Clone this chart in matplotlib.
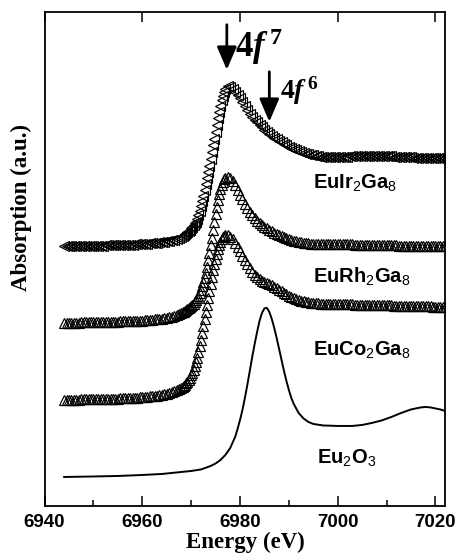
import matplotlib
matplotlib.use("Agg")
import matplotlib.pyplot as plt

plt.rcParams['mathtext.fontset'] = 'custom'
plt.rcParams['mathtext.rm'] = 'Liberation Sans'
plt.rcParams['mathtext.bf'] = 'Liberation Serif:bold'
plt.rcParams['mathtext.it'] = 'Liberation Serif:italic:bold'

# shared energy grid (eV) for the three intermetallic spectra
energy = [6944, 6944.5, 6945, 6945.5, 6946, 6946.5, 6947, 6947.5, 6948, 6948.5,
          6949, 6949.5, 6950, 6950.5, 6951, 6951.5, 6952, 6952.5, 6953, 6953.5,
          6954, 6954.5, 6955, 6955.5, 6956, 6956.5, 6957, 6957.5, 6958, 6958.5,
          6959, 6959.5, 6960, 6960.5, 6961, 6961.5, 6962, 6962.5, 6963, 6963.5,
          6964, 6964.5, 6965, 6965.5, 6966,
          6966.5, 6967, 6967.5, 6968,
          6968.25, 6968.5, 6968.75, 6969, 6969.25, 6969.5, 6969.75, 6970, 6970.25,
          6970.5, 6970.75, 6971, 6971.25, 6971.5, 6971.75, 6972, 6972.25, 6972.5,
          6972.75, 6973, 6973.25, 6973.5, 6973.75, 6974, 6974.25, 6974.5, 6974.75,
          6975, 6975.25, 6975.5, 6975.75, 6976, 6976.25, 6976.5, 6976.75, 6977,
          6977.5, 6978, 6978.5, 6979, 6979.5, 6980, 6980.5, 6981, 6981.5, 6982,
          6982.5, 6983, 6983.5, 6984, 6984.5, 6985, 6985.5, 6986, 6986.5, 6987,
          6987.5, 6988, 6988.5, 6989, 6989.5, 6990,
          6990.5, 6991, 6991.5, 6992, 6992.5, 6993, 6993.5, 6994, 6994.5, 6995,
          6995.5, 6996, 6996.5, 6997, 6997.5, 6998, 6998.5, 6999, 6999.5, 7000,
          7000.5, 7001, 7001.5, 7002, 7002.5, 7003, 7003.5, 7004, 7004.5, 7005,
          7005.5, 7006, 7006.5, 7007, 7007.5, 7008, 7008.5, 7009, 7009.5, 7010,
          7010.5, 7011, 7011.5, 7012, 7012.5, 7013, 7013.5, 7014, 7014.5, 7015,
          7015.5, 7016, 7016.5, 7017, 7017.5, 7018, 7018.5, 7019, 7019.5, 7020,
          7020.5, 7021, 7021.5, 7022]

# absorption with vertical offsets (a.u.)
eu_ir = [259.5, 259.5, 259.5, 259.5, 259.5, 259.5, 259.5, 260, 260, 260,
         260, 260, 260, 260, 260, 260, 260, 260.5, 260.5, 260.5,
         260.5, 260.5, 260.5, 261, 261, 261, 261, 261, 261, 261.5,
         261.5, 261.5, 261.5, 262, 262, 262.5, 262.5, 263, 263, 263.5,
         263.5, 264, 264.5, 265, 265.5,
         266, 267, 268, 269,
         269.5, 270.5, 271.5, 273, 274, 275, 276, 277.5, 279,
         280.5, 282.5, 284, 287, 291, 295, 300, 305, 310,
         316, 322, 328, 334, 340, 347, 354, 360.5, 367,
         374, 381, 388, 394, 400, 405.5, 410, 414, 417,
         420, 418.5, 416.5, 414, 411, 407.5, 404, 400, 396, 392,
         389, 386, 383.5, 381, 378.5, 376, 374, 372, 370, 368,
         366.5, 365, 363.5, 362, 360.5, 359,
         358, 356.5, 355.5, 354.5, 353.5, 353, 352, 351.5, 351, 350.5,
         350, 349.5, 349, 349, 348.5, 348.5, 348.5, 348.5, 348.5, 348.5,
         349, 349, 349, 349, 349.5, 349.5, 349.5, 349.5, 350, 350,
         350, 350, 350, 350, 350, 350, 350, 350, 349.5, 349.5,
         349.5, 349.5, 349, 349, 349, 349, 348.5, 348.5, 348.5, 348.5,
         348, 348, 348, 348, 348, 348, 348, 348, 348, 348,
         348, 348, 348, 348]

eu_rh = [183, 183, 183, 183, 183, 183, 183, 183.5, 183.5, 183.5,
         183.5, 183.5, 183.5, 183.5, 183.5, 184, 184, 184, 184, 184,
         184, 184, 184, 184.5, 184.5, 184.5, 184.5, 184.5, 184.5, 185,
         185, 185, 185, 185.5, 185.5, 186, 186, 186.5, 186.5, 187,
         187, 187.5, 188, 188.5, 189,
         189.5, 190.5, 191.5, 192.5,
         193.5, 194, 195, 196, 196.5, 197.5, 198.5, 199.5, 200.5,
         202, 204, 206, 208, 210, 212.5, 216, 220, 224,
         228, 233, 239, 246, 253, 261, 268, 276, 284,
         292, 299, 306, 312, 317, 321, 324, 326.5, 328,
         329, 328, 325, 321, 316, 311, 306.5, 302, 298, 294,
         290.5, 287.5, 285, 282.5, 280.5, 279, 277.5, 276, 274.5, 273,
         272, 270.5, 269.5, 268.5, 267.5, 266.5,
         265.5, 265, 264.5, 264, 263.5, 263, 262.5, 262.5, 262, 262,
         262, 262, 262, 262, 262, 262, 262, 262, 262, 262,
         261.5, 261.5, 261.5, 261.5, 261.5, 261.5, 261, 261, 261, 261,
         261, 261, 261, 261, 261, 261, 260.5, 260.5, 260.5, 260.5,
         260.5, 260.5, 260.5, 260.5, 260, 260, 260, 260, 260, 260,
         260, 260, 260, 260, 259.5, 259.5, 259.5, 259.5, 259.5, 259.5,
         259.5, 259.5, 259.5, 259.5]

eu_co = [106, 106, 106, 106, 106, 106, 106, 106.5, 106.5, 106.5,
         106.5, 106.5, 106.5, 106.5, 106.5, 107, 107, 107, 107, 107,
         107, 107, 107, 107.5, 107.5, 107.5, 107.5, 108, 108, 108,
         108, 108.5, 108.5, 109, 109, 109.5, 109.5, 110, 110, 110.5,
         111, 111.5, 112, 112.5, 113.5,
         114.5, 115.5, 116.5, 117.5,
         118.5, 119.5, 121, 122.5, 124, 126, 128, 130.5, 133,
         136, 139.5, 143.5, 148, 153.5, 159.5, 166, 173, 180,
         187, 194, 201, 208, 215, 222, 229, 235.5, 241.5,
         247, 252, 256.5, 260.5, 264, 266.5, 268.5, 270, 270.5,
         270.5, 269, 266.5, 263, 259, 254.5, 250, 245.5, 241.5, 237.5,
         234, 231, 228.5, 226.5, 225, 224, 223, 222, 220.5, 219,
         217.5, 216, 214.5, 213, 211.5, 210,
         209, 208, 207, 206, 205, 204.5, 204, 203.5, 203, 203,
         202.5, 202.5, 202, 202, 202, 202, 202, 202, 202, 202,
         201.5, 201.5, 201.5, 201.5, 201.5, 201.5, 201, 201, 201, 201,
         201, 201, 201, 201, 200.5, 200.5, 200.5, 200.5, 200.5, 200.5,
         200.5, 200.5, 200, 200, 200, 200, 200, 200, 200, 200,
         199.5, 199.5, 199.5, 199.5, 199.5, 199.5, 199.5, 199.5, 199, 199,
         199, 199, 199, 199]

# Eu2O3 reference spectrum
energy_o3 = [6944, 6950, 6955, 6960, 6964, 6967, 6970, 6972, 6974, 6975,
             6976, 6977, 6978, 6979, 6979.5, 6980, 6980.5, 6981, 6981.5, 6982,
             6982.5, 6983, 6983.5, 6984, 6984.5, 6985, 6985.5, 6986, 6986.5, 6987,
             6987.5, 6988, 6988.5, 6989, 6989.5, 6990, 6990.5, 6991, 6992, 6993,
             6994, 6995, 6997, 7000, 7003, 7005, 7007, 7009, 7011, 7013,
             7015, 7017, 7018, 7019, 7020, 7021, 7022]
eu2o3 = [29, 29.5, 30, 31, 32, 33.5, 35, 36.5, 40, 42.5,
         46, 51, 58, 69, 77, 86, 96, 108, 121, 135,
         149, 162, 174, 185, 193, 197.5, 198, 194, 187, 178,
         168, 157, 146, 135, 125, 116, 108, 102, 93, 87.5,
         84, 82, 80.5, 80, 80, 81, 83, 85.5, 89, 93,
         96.5, 98.5, 99, 98.5, 97.5, 96.5, 95]

labels = [r'EuIr$_\mathrm{2}$Ga$_\mathrm{8}$', r'EuRh$_\mathrm{2}$Ga$_\mathrm{8}$',
          r'EuCo$_\mathrm{2}$Ga$_\mathrm{8}$', r'Eu$_\mathrm{2}$O$_\mathrm{3}$']
label_pos = [(6995, 318), (6995, 224), (6995, 151), (6995.8, 43)]

fig = plt.figure(figsize=(4.56, 5.58), dpi=100)
ax = fig.add_axes([0.0978, 0.0932, 0.8785, 0.8858])

mk = dict(linestyle='none', mfc='none', mec='black', mew=0.85, ms=6.5)
ax.plot(energy, eu_co, marker='^', **mk)
ax.plot(energy, eu_rh, marker='^', **mk)
ax.plot(energy, eu_ir, marker='<', **mk)
ax.plot(energy_o3, eu2o3, color='black', lw=1.4)

for text, (x, y) in zip(labels, label_pos):
    ax.text(x, y, text, fontsize=14.5, fontweight='bold', family='Liberation Sans',
            ha='left', va='baseline')

# peak markers for the divalent and trivalent lines
arrow = dict(arrowstyle='-|>,head_length=0.7,head_width=0.3', lw=2, color='black',
             mutation_scale=20, shrinkA=0, shrinkB=0)
ax.annotate('', xy=(6977.3, 436), xytext=(6977.3, 481), arrowprops=arrow)
ax.annotate('', xy=(6986.0, 384), xytext=(6986.0, 434), arrowprops=arrow)
ax.text(6979.0, 449, r'$\mathbf{4}\mathit{f}^{\,\mathbf{7}}$', fontsize=25)
ax.text(6988.2, 407, r'$\mathbf{4}\mathit{f}^{\,\mathbf{6}}$', fontsize=20)

ax.set_xlim(6940, 7022)
ax.set_ylim(0, 494)
ax.set_xticks([6940, 6960, 6980, 7000, 7020])
ax.set_xticks(range(6950, 7020, 20), minor=True)
ax.set_yticks([])
ax.tick_params(axis='x', which='major', direction='in', length=7, width=1.1,
               top=True, pad=6)
ax.tick_params(axis='x', which='minor', direction='in', length=4.5, width=1.1,
               top=False)
for lab in ax.get_xticklabels():
    lab.set_fontfamily('Liberation Sans')
    lab.set_fontweight('bold')
    lab.set_fontsize(13.5)
for sp in ax.spines.values():
    sp.set_linewidth(1.3)

ax.set_xlabel('Energy (eV)', family='Liberation Serif', fontweight='bold',
              fontsize=16.5, labelpad=0)
ax.set_ylabel('Absorption (a.u.)', family='Liberation Serif', fontweight='bold',
              fontsize=16.5)
ax.yaxis.set_label_coords(-0.032, 0.603)

fig.savefig('out.png', dpi=100)
